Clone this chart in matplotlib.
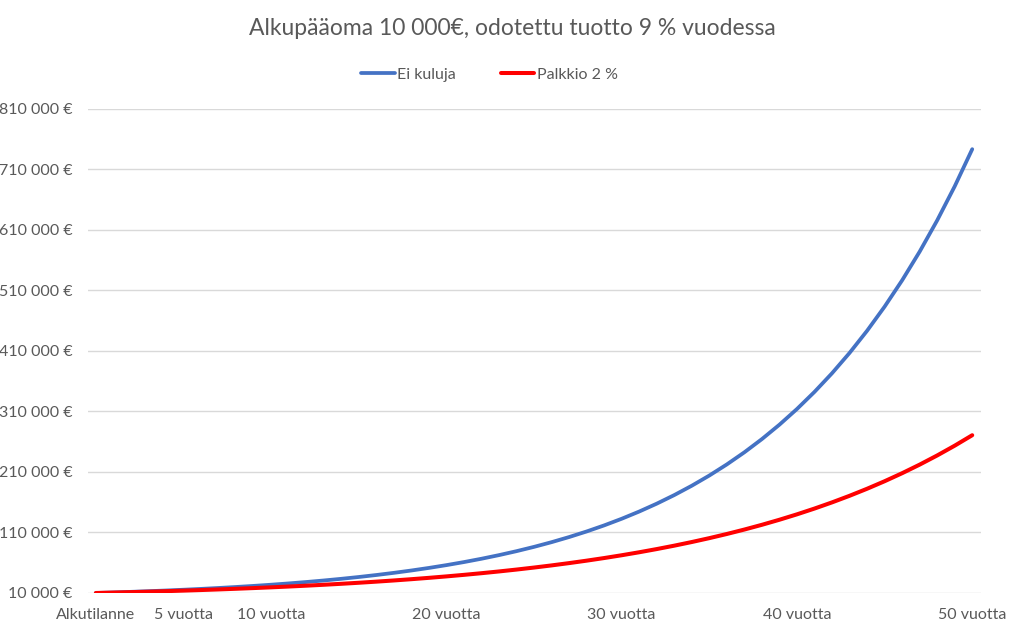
import matplotlib
matplotlib.use("Agg")
import matplotlib.pyplot as plt
from matplotlib.ticker import FuncFormatter

# Years 0..50 ("Alkutilanne" = start)
years = list(range(51))
tick_years = [0, 5, 10, 20, 30, 40, 50]
tick_labels = ["Alkutilanne", "5 vuotta", "10 vuotta", "20 vuotta",
               "30 vuotta", "40 vuotta", "50 vuotta"]

# Portfolio value in euros
no_fees = [
    10000, 10900, 11881, 12950, 14116, 15386, 16771, 18280, 19926, 21719,
    23674, 25804, 28127, 30658, 33417, 36425, 39703, 43276, 47171, 51417,
    56044, 61088, 66586, 72579, 79111, 86231, 93992, 102451, 111672, 121722,
    132677, 144618, 157633, 171820, 187284, 204140, 222512, 242538, 264367, 288160,
    314094, 342363, 373175, 406761, 443370, 483273, 526767, 574176, 625852, 682179,
    743575,
]
fee_2pct = [
    10000, 10682, 11411, 12189, 13020, 13908, 14857, 15870, 16952, 18108,
    19343, 20662, 22072, 23577, 25185, 26902, 28737, 30697, 32790, 35027,
    37416, 39967, 42693, 45605, 48715, 52037, 55586, 59377, 63427, 67752,
    72373, 77309, 82581, 88214, 94230, 100656, 107521, 114854, 122687, 131054,
    139992, 149540, 159738, 170632, 182269, 194700, 207979, 222163, 237314, 253499,
    270788,
]
y_ticks = list(range(10000, 810001, 100000))

plt.rcParams["font.family"] = ["Lato", "DejaVu Sans"]
text_color = "#595959"

fig = plt.figure(figsize=(10.24, 6.37), dpi=100)
ax = fig.add_axes([0.0859, 0.0691, 0.8721, 0.7598])

ax.plot(years, no_fees, color="#4472C4", linewidth=2.7, label="Ei kuluja",
        solid_capstyle="round")
ax.plot(years, fee_2pct, color="#FF0000", linewidth=2.9, label="Palkkio 2 %",
        solid_capstyle="round")

ax.set_xlim(-0.45, 50.5)
ax.set_ylim(10000, 810000)
ax.set_yticks(y_ticks)
ax.yaxis.set_major_formatter(
    FuncFormatter(lambda v, _: f"{int(v):,} €".replace(",", " ")))
ax.set_xticks(tick_years)
ax.set_xticklabels(tick_labels)

ax.grid(axis="y", color="#D9D9D9", linewidth=1)
ax.set_axisbelow(True)
for s in ax.spines.values():
    s.set_visible(False)
ax.tick_params(length=0, labelsize=11.5, colors=text_color)
ax.tick_params(axis="y", pad=11)
ax.tick_params(axis="x", pad=11)

fig.text(0.5, 0.955, "Alkupääoma 10 000€, odotettu tuotto 9 % vuodessa",
         ha="center", va="center", fontsize=16.5, color=text_color)
fig.legend(loc="center", bbox_to_anchor=(0.478, 0.883), ncol=2, frameon=False,
           fontsize=11.5, labelcolor=text_color, handlelength=2.1,
           handletextpad=0.15, columnspacing=2.8)

fig.savefig("out.png", dpi=100)
